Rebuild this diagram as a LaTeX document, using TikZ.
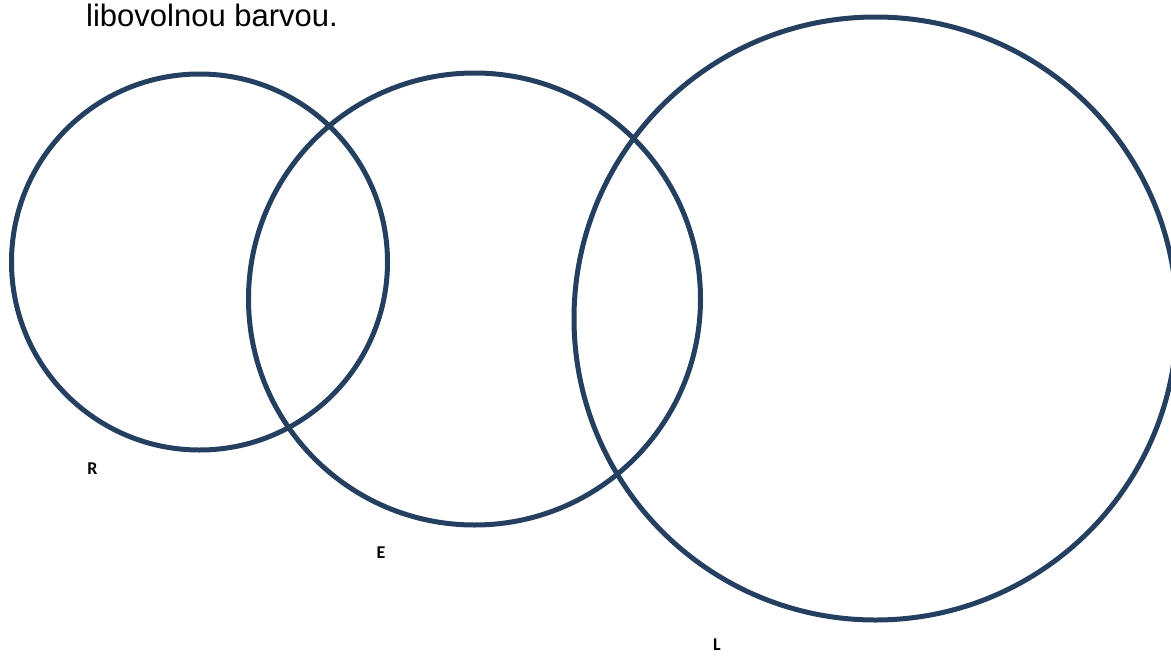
\documentclass[tikz,border=0pt]{standalone}
\usepackage{fontspec}
\setmainfont{Liberation Sans}
\newfontfamily\lblfont{Carlito}
\definecolor{ring}{RGB}{36,63,96}
\begin{document}
\begin{tikzpicture}[x=1pt,y=1pt,
  ringstyle/.style={draw=ring,line width=5pt},
  setlabel/.style={font=\lblfont\bfseries\fontsize{18}{21}\selectfont,inner sep=0pt}]
\useasboundingbox (0,0) rectangle (1171,-657);
\clip (0,0) rectangle (1171,-657);
\node[anchor=base west,inner sep=0pt,font=\fontsize{31}{36}\selectfont] (title) at (86,-26) {libovolnou barvou.};
\draw[ringstyle] (199.5,-262) circle[radius=188];
\draw[ringstyle] (474.5,-299) circle[radius=226];
\draw[ringstyle] (875.5,-318.5) circle[radius=301.5];
\node[setlabel] (R) at (92.5,-469) {R};
\node[setlabel] (E) at (381,-553) {E};
\node[setlabel] (L) at (717,-645) {L};
\end{tikzpicture}
\end{document}
